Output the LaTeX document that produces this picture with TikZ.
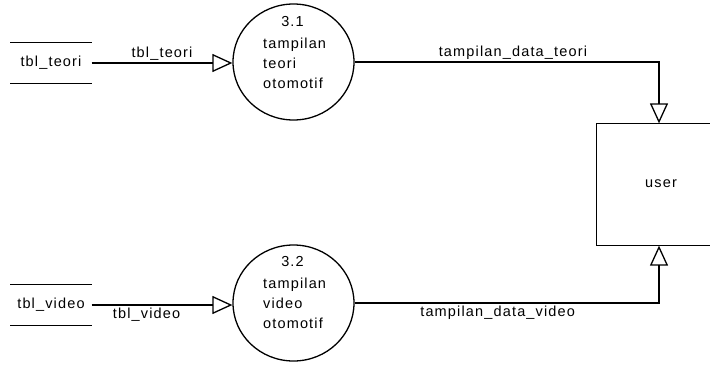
\documentclass[tikz,border=0pt]{standalone}
\usepackage{fontspec}
\setmainfont{Liberation Sans}[LetterSpace=8]
\usetikzlibrary{arrows.meta,calc,shapes.geometric}
\tikzset{
  every node/.style={font=\fontsize{14.5}{20}\selectfont, inner sep=2pt},
  store/.style={minimum width=80, minimum height=40, inner sep=0pt},
  proc/.style={draw, ellipse, minimum width=121, minimum height=116, inner sep=0pt},
  ptext/.style={align=left, anchor=west, inner sep=0pt},
  entity/.style={minimum width=124, minimum height=121, inner sep=0pt},
  flow/.style={-{Triangle[open, length=20, width=18]}},
}
\begin{document}
\begin{tikzpicture}[x=1pt, y=-1pt, line width=1.3pt]
\useasboundingbox (0,0) rectangle (710,365);
\clip (0,0) rectangle (710,365);
% stores
\node[store] (s1) at (51,63) {tbl\_teori};
\draw (s1.north west) -- (s1.north east) (s1.south west) -- (s1.south east);
\node[store] (s2) at (51,305) {tbl\_video};
\draw (s2.north west) -- (s2.north east) (s2.south west) -- (s2.south east);
% processes
\node[proc] (p1) at (293.5,62) {};
\node (n1) at ($(p1.center)+(-1,-40)$) {3.1};
\node[ptext] (t1) at ($(p1.center)+(-31,1)$) {tampilan\\teori\\otomotif};
\node[proc] (p2) at (293.5,303) {};
\node (n2) at ($(p2.center)+(-1,-41)$) {3.2};
\node[ptext] (t2) at ($(p2.center)+(-31,0)$) {tampilan\\video\\otomotif};
% entity
\node[entity] (user) at (659,184.5) {};
\coordinate (ue1) at ($(user.north east)+(40,0)$);
\coordinate (ue2) at ($(user.south east)+(40,0)$);
\draw (ue1) -- (user.north west) -- (user.south west) -- (ue2);
\node (ut) at (661,184) {user};
\coordinate (u1) at (user.north);
\coordinate (u2) at (user.south);
% flows
\draw[flow] (s1.east) -- node[midway, above] {tbl\_teori} (s1.east -| p1.west);
\draw[flow] (s2.east) -- node[pos=0.39, below] {tbl\_video} (s2.east -| p2.west);
\draw[flow] (p1.east) -- node[pos=0.52, above] {tampilan\_data\_teori} (p1.east -| u1) -- (u1);
\draw[flow] (p2.east) -- node[pos=0.47, below] {tampilan\_data\_video} (p2.east -| u2) -- (u2);
\end{tikzpicture}
\end{document}
